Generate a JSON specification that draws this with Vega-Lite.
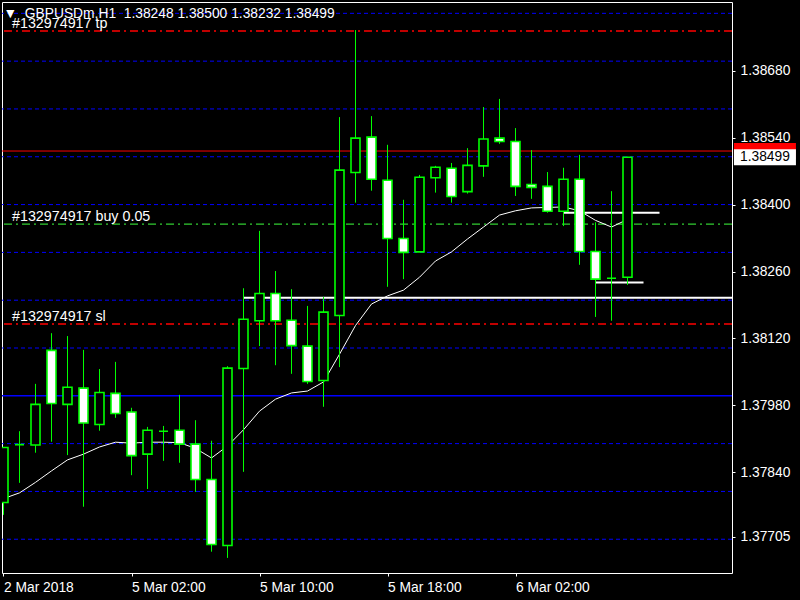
{
  "$schema": "https://vega.github.io/schema/vega-lite/v6.json",
  "width": 730,
  "height": 571,
  "autosize": {"type": "none"},
  "padding": {"left": 2, "top": 2, "right": 68, "bottom": 27},
  "background": "#000000",
  "config": {
    "view": {"stroke": "#ffffff", "strokeWidth": 1},
    "font": "Liberation Sans",
    "axis": {"labelFont": "Liberation Sans", "labelFontSize": 13.8, "labelColor": "#ffffff", "tickColor": "#ffffff", "domain": false, "grid": false}
  },
  "layer": [
    {
      "data": {"values": [{"p": 1.377}, {"p": 1.378}, {"p": 1.379}, {"p": 1.381}, {"p": 1.382}, {"p": 1.383}, {"p": 1.384}, {"p": 1.385}, {"p": 1.386}, {"p": 1.387}, {"p": 1.388}]},
      "mark": {"type": "rule", "color": "#0000ff", "strokeWidth": 1, "strokeDash": [4, 3]},
      "encoding": {"y": {"field": "p", "type": "quantitative", "title": null, "scale": {"domain": [1.376294, 1.388237], "nice": false, "zero": false, "padding": 0}}}
    },
    {
      "data": {"values": [{"p": 1.38}]},
      "mark": {"type": "rule", "color": "#0000ff", "strokeWidth": 1.5},
      "encoding": {"y": {"field": "p", "type": "quantitative", "title": null, "scale": {"domain": [1.376294, 1.388237], "nice": false, "zero": false, "padding": 0}}}
    },
    {
      "data": {"values": [{"p": 1.38512}]},
      "mark": {"type": "rule", "color": "#ff0000", "strokeWidth": 1},
      "encoding": {"y": {"field": "p", "type": "quantitative", "title": null, "scale": {"domain": [1.376294, 1.388237], "nice": false, "zero": false, "padding": 0}}}
    },
    {
      "data": {"values": [{"p": 1.38763}, {"p": 1.3815}]},
      "mark": {"type": "rule", "color": "#ff0000", "strokeWidth": 1.5, "strokeDash": [8, 4, 2, 4]},
      "encoding": {"y": {"field": "p", "type": "quantitative", "title": null, "scale": {"domain": [1.376294, 1.388237], "nice": false, "zero": false, "padding": 0}}}
    },
    {
      "data": {"values": [{"p": 1.38359}]},
      "mark": {"type": "rule", "color": "#32cd32", "strokeWidth": 1.2, "strokeDash": [8, 4, 2, 4]},
      "encoding": {"y": {"field": "p", "type": "quantitative", "title": null, "scale": {"domain": [1.376294, 1.388237], "nice": false, "zero": false, "padding": 0}}}
    },
    {
      "data": {"values": [{"p": 1.38205, "from": 15, "to": 46}, {"p": 1.38383, "from": 35, "to": 41}, {"p": 1.38237, "from": 37, "to": 40}]},
      "mark": {"type": "rule", "color": "#ffffff", "strokeWidth": 2, "clip": true},
      "encoding": {
        "x": {"field": "from", "type": "quantitative", "title": null, "scale": {"domain": [-0.09375, 45.53125], "nice": false, "zero": false, "padding": 0}},
        "x2": {"field": "to"},
        "y": {"field": "p", "type": "quantitative", "title": null, "scale": {"domain": [1.376294, 1.388237], "nice": false, "zero": false, "padding": 0}}
      }
    },
    {
      "data": {"values": [
        {"i": 0, "v": 1.37785}, {"i": 1, "v": 1.37797}, {"i": 2, "v": 1.37819}, {"i": 3, "v": 1.37843}, {"i": 4, "v": 1.37866},
        {"i": 5, "v": 1.37878}, {"i": 6, "v": 1.37893}, {"i": 7, "v": 1.37903}, {"i": 8, "v": 1.37901}, {"i": 9, "v": 1.37903},
        {"i": 10, "v": 1.37903}, {"i": 11, "v": 1.37902}, {"i": 12, "v": 1.3789}, {"i": 13, "v": 1.3787}, {"i": 14, "v": 1.37895},
        {"i": 15, "v": 1.37929}, {"i": 16, "v": 1.37968}, {"i": 17, "v": 1.37993}, {"i": 18, "v": 1.38006}, {"i": 19, "v": 1.3801},
        {"i": 20, "v": 1.38029}, {"i": 21, "v": 1.38087}, {"i": 22, "v": 1.38147}, {"i": 23, "v": 1.38192}, {"i": 24, "v": 1.38209},
        {"i": 25, "v": 1.38221}, {"i": 26, "v": 1.38248}, {"i": 27, "v": 1.38282}, {"i": 28, "v": 1.38301}, {"i": 29, "v": 1.38328},
        {"i": 30, "v": 1.38353}, {"i": 31, "v": 1.38378}, {"i": 32, "v": 1.38387}, {"i": 33, "v": 1.38393}, {"i": 34, "v": 1.38394},
        {"i": 35, "v": 1.38395}, {"i": 36, "v": 1.38387}, {"i": 37, "v": 1.38367}, {"i": 38, "v": 1.38353}, {"i": 39, "v": 1.38369}
      ]},
      "mark": {"type": "line", "color": "#ffffff", "strokeWidth": 1, "clip": true},
      "encoding": {
        "x": {"field": "i", "type": "quantitative", "title": null, "scale": {"domain": [-0.09375, 45.53125], "nice": false, "zero": false, "padding": 0}},
        "y": {"field": "v", "type": "quantitative", "title": null, "scale": {"domain": [1.376294, 1.388237], "nice": false, "zero": false, "padding": 0}}
      }
    },
    {
      "data": {"name": "candles"},
      "mark": {"type": "rule", "color": "#00ff00", "strokeWidth": 1, "clip": true},
      "encoding": {
        "x": {"field": "i", "type": "quantitative", "title": null, "scale": {"domain": [-0.09375, 45.53125], "nice": false, "zero": false, "padding": 0},
              "axis": {"values": [0, 8, 16, 24, 32], "labelExpr": "datum.value == 0 ? '2 Mar 2018' : datum.value == 8 ? '5 Mar 02:00' : datum.value == 16 ? '5 Mar 10:00' : datum.value == 24 ? '5 Mar 18:00' : '6 Mar 02:00'", "labelAlign": "left", "labelFlush": false, "labelOverlap": false, "tickSize": 3, "labelPadding": 4, "title": null}},
        "y": {"field": "l", "type": "quantitative", "title": null, "scale": {"domain": [1.376294, 1.388237], "nice": false, "zero": false, "padding": 0},
              "axis": {"orient": "right", "values": [1.37705, 1.3784, 1.3798, 1.3812, 1.3826, 1.384, 1.3854, 1.3868], "format": ".5f", "labelFlush": false, "labelOverlap": false, "tickSize": 3, "labelPadding": 5, "title": null}},
        "y2": {"field": "h"}
      }
    },
    {
      "data": {"name": "candles"},
      "mark": {"type": "bar", "stroke": "#00ff00", "strokeWidth": 1.6, "clip": true},
      "encoding": {
        "x": {"field": "i", "type": "quantitative", "title": null, "scale": {"domain": [-0.09375, 45.53125], "nice": false, "zero": false, "padding": 0}},
        "y": {"field": "o", "type": "quantitative", "title": null, "scale": {"domain": [1.376294, 1.388237], "nice": false, "zero": false, "padding": 0}},
        "y2": {"field": "c"},
        "size": {"value": 9},
        "fill": {"condition": {"test": "datum.c < datum.o", "value": "#ffffff"}, "value": "#000000"}
      }
    },
    {
      "data": {"values": [
        {"p": 1.38763, "label": "#132974917 tp"},
        {"p": 1.38359, "label": "#132974917 buy 0.05"},
        {"p": 1.3815, "label": "#132974917 sl"}
      ]},
      "mark": {"type": "text", "color": "#ffffff", "font": "Liberation Sans", "fontSize": 14.3, "align": "left", "baseline": "alphabetic", "dy": -3.5},
      "encoding": {
        "x": {"datum": 0.53, "type": "quantitative", "title": null, "scale": {"domain": [-0.09375, 45.53125], "nice": false, "zero": false, "padding": 0}},
        "y": {"field": "p", "type": "quantitative", "title": null, "scale": {"domain": [1.376294, 1.388237], "nice": false, "zero": false, "padding": 0}},
        "text": {"field": "label"}
      }
    },
    {
      "data": {"values": [{"label": "▼\u00a0\u00a0GBPUSDm,H1\u00a0\u00a01.38248 1.38500 1.38232 1.38499"}]},
      "mark": {"type": "text", "color": "#ffffff", "font": "Liberation Sans, DejaVu Sans", "fontSize": 13.8, "align": "left", "baseline": "alphabetic"},
      "encoding": {
        "x": {"datum": 0.0, "type": "quantitative", "title": null, "scale": {"domain": [-0.09375, 45.53125], "nice": false, "zero": false, "padding": 0}},
        "y": {"datum": 1.38791, "type": "quantitative", "title": null, "scale": {"domain": [1.376294, 1.388237], "nice": false, "zero": false, "padding": 0}},
        "text": {"field": "label"}
      }
    },
    {
      "data": {"values": [{"p": 1.38512, "kind": "ask"}, {"p": 1.38499, "kind": "bid"}]},
      "mark": {"type": "tick", "orient": "horizontal", "size": 62, "thickness": 16, "opacity": 1},
      "encoding": {
        "x": {"datum": 47.59, "type": "quantitative", "title": null, "scale": {"domain": [-0.09375, 45.53125], "nice": false, "zero": false, "padding": 0}},
        "y": {"field": "p", "type": "quantitative", "title": null, "scale": {"domain": [1.376294, 1.388237], "nice": false, "zero": false, "padding": 0}},
        "color": {"field": "kind", "type": "nominal", "scale": {"domain": ["ask", "bid"], "range": ["#ff0000", "#ffffff"]}, "legend": null}
      }
    },
    {
      "data": {"values": [{"p": 1.38499, "label": "1.38499"}]},
      "mark": {"type": "text", "color": "#000000", "font": "Liberation Sans", "fontSize": 13.8, "align": "left", "baseline": "middle"},
      "encoding": {
        "x": {"datum": 46.03, "type": "quantitative", "title": null, "scale": {"domain": [-0.09375, 45.53125], "nice": false, "zero": false, "padding": 0}},
        "y": {"field": "p", "type": "quantitative", "title": null, "scale": {"domain": [1.376294, 1.388237], "nice": false, "zero": false, "padding": 0}},
        "text": {"field": "label"}
      }
    }
  ],
  "datasets": {
    "candles": [
      {"i": 0, "o": 1.37777, "h": 1.37892, "l": 1.37751, "c": 1.37892},
      {"i": 1, "o": 1.37898, "h": 1.37926, "l": 1.37818, "c": 1.37898},
      {"i": 2, "o": 1.37897, "h": 1.38025, "l": 1.37881, "c": 1.37982},
      {"i": 3, "o": 1.38095, "h": 1.38131, "l": 1.37904, "c": 1.37984},
      {"i": 4, "o": 1.37982, "h": 1.38125, "l": 1.37876, "c": 1.38018},
      {"i": 5, "o": 1.38016, "h": 1.38096, "l": 1.37768, "c": 1.37943},
      {"i": 6, "o": 1.3794, "h": 1.38056, "l": 1.37927, "c": 1.38007},
      {"i": 7, "o": 1.38005, "h": 1.38071, "l": 1.37954, "c": 1.37963},
      {"i": 8, "o": 1.37966, "h": 1.37975, "l": 1.37834, "c": 1.37875},
      {"i": 9, "o": 1.37878, "h": 1.37935, "l": 1.37805, "c": 1.37928},
      {"i": 10, "o": 1.37926, "h": 1.37937, "l": 1.37864, "c": 1.37926},
      {"i": 11, "o": 1.37928, "h": 1.38002, "l": 1.3786, "c": 1.37899},
      {"i": 12, "o": 1.37899, "h": 1.37949, "l": 1.37799, "c": 1.37825},
      {"i": 13, "o": 1.37825, "h": 1.37906, "l": 1.37674, "c": 1.37689},
      {"i": 14, "o": 1.37687, "h": 1.38062, "l": 1.37661, "c": 1.38058},
      {"i": 15, "o": 1.38057, "h": 1.38225, "l": 1.37841, "c": 1.3816},
      {"i": 16, "o": 1.38157, "h": 1.38345, "l": 1.38104, "c": 1.38214},
      {"i": 17, "o": 1.38214, "h": 1.38261, "l": 1.38064, "c": 1.38157},
      {"i": 18, "o": 1.38158, "h": 1.38223, "l": 1.38046, "c": 1.38105},
      {"i": 19, "o": 1.38104, "h": 1.38188, "l": 1.38025, "c": 1.3803},
      {"i": 20, "o": 1.38032, "h": 1.38207, "l": 1.37977, "c": 1.38175},
      {"i": 21, "o": 1.38168, "h": 1.38583, "l": 1.3806, "c": 1.38472},
      {"i": 22, "o": 1.38467, "h": 1.38765, "l": 1.38404, "c": 1.38539},
      {"i": 23, "o": 1.38541, "h": 1.38585, "l": 1.38429, "c": 1.38453},
      {"i": 24, "o": 1.38451, "h": 1.38525, "l": 1.38228, "c": 1.38329},
      {"i": 25, "o": 1.38329, "h": 1.3841, "l": 1.38244, "c": 1.383},
      {"i": 26, "o": 1.38301, "h": 1.38462, "l": 1.38301, "c": 1.38457},
      {"i": 27, "o": 1.38456, "h": 1.38481, "l": 1.38425, "c": 1.38478},
      {"i": 28, "o": 1.38476, "h": 1.38487, "l": 1.38404, "c": 1.38417},
      {"i": 29, "o": 1.38427, "h": 1.38518, "l": 1.38423, "c": 1.38482},
      {"i": 30, "o": 1.38481, "h": 1.38604, "l": 1.38458, "c": 1.38537},
      {"i": 31, "o": 1.38539, "h": 1.38621, "l": 1.38527, "c": 1.38532},
      {"i": 32, "o": 1.38532, "h": 1.3856, "l": 1.38418, "c": 1.38438},
      {"i": 33, "o": 1.38442, "h": 1.38514, "l": 1.38412, "c": 1.38436},
      {"i": 34, "o": 1.38438, "h": 1.38468, "l": 1.38383, "c": 1.38386},
      {"i": 35, "o": 1.38386, "h": 1.38477, "l": 1.38355, "c": 1.38453},
      {"i": 36, "o": 1.38453, "h": 1.38504, "l": 1.38274, "c": 1.38302},
      {"i": 37, "o": 1.38302, "h": 1.38363, "l": 1.38165, "c": 1.38244},
      {"i": 38, "o": 1.38246, "h": 1.38428, "l": 1.38157, "c": 1.38246},
      {"i": 39, "o": 1.38248, "h": 1.385, "l": 1.38232, "c": 1.38499}
    ]
  }
}
